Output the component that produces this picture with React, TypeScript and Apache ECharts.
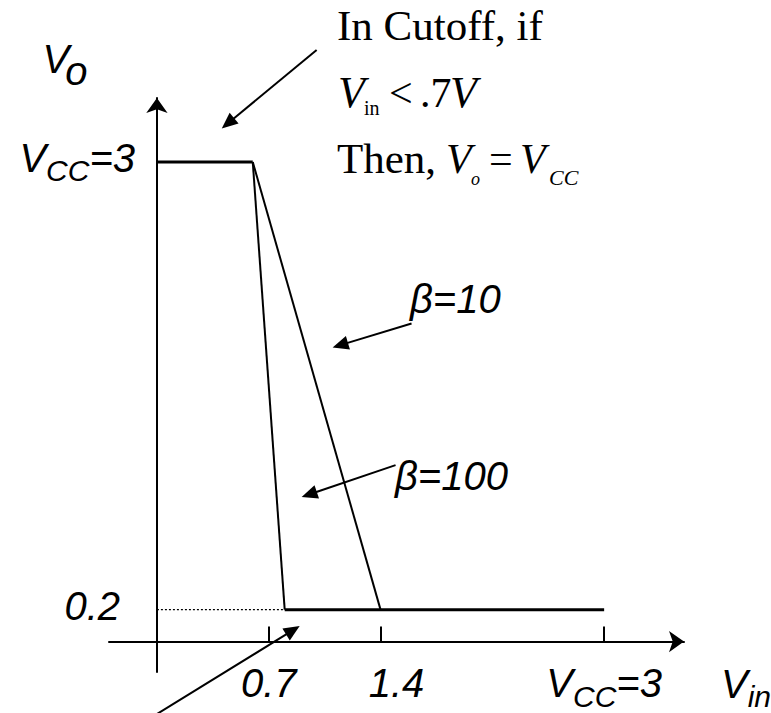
import React, { useEffect, useRef } from "react";
import * as echarts from "echarts";

// ---- data ----
const cutoffSegment: number[][] = [[0, 3], [0.6, 3]];
const beta100Segment: number[][] = [[0.6, 3], [0.8, 0.2]];
const beta10Segment: number[][] = [[0.6, 3], [1.4, 0.2]];
const saturationSegment: number[][] = [[0.8, 0.2], [2.8, 0.2]];
const saturationGuide: number[][] = [[0, 0.2], [0.8, 0.2]];

const xTickValues = [0.7, 1.4, 2.8];
const xTickLabels = ["0.7", "1.4", "VCC=3"];
const yTickValues = [0.2, 3];
const yTickLabels = ["0.2", "VCC=3"];

// annotation arrows: [fromX, fromY, toX, toY] in data units
const annotationArrows: number[][] = [
  [1.0, 3.7, 0.406, 3.21],
  [1.594, 1.99, 1.1, 1.84],
  [1.494, 1.104, 0.906, 0.904],
  [-0.044, -0.48, 0.894, 0.0975],
];

const SANS = "Liberation Sans";
const SERIF = "Liberation Serif";

const sansBase = { fontFamily: SANS, fontStyle: "italic" as const, color: "#000" };
const richLabels: Record<string, any> = {
  v: { ...sansBase, fontSize: 40, verticalAlign: "bottom", padding: [0, 0, 8, 0] },
  s: { ...sansBase, fontSize: 30, verticalAlign: "bottom" },
  n: { ...sansBase, fontSize: 40, verticalAlign: "bottom", padding: [0, 0, 8, 0] },
  nr: { ...sansBase, fontSize: 40, verticalAlign: "bottom", padding: [0, 15, 8, 0] },
  nl: { ...sansBase, fontSize: 40, verticalAlign: "bottom", padding: [0, 0, 8, 32] },
  vo: { ...sansBase, fontSize: 40, verticalAlign: "bottom", width: 19, padding: [0, 0, 12, 0] },
  o: { ...sansBase, fontSize: 40, verticalAlign: "bottom" },
};

function richText(label: string, numStyle: string): string {
  if (label.startsWith("VCC")) return "{v|V}{s|CC}{v|" + label.slice(3) + "}";
  return "{" + numStyle + "|" + label + "}";
}

function serifText(text: string, x: number, baseline: number, size: number, italic: boolean) {
  return {
    type: "text",
    style: {
      text,
      x,
      y: baseline - 0.3375 * size,
      fontFamily: SERIF,
      fontSize: size,
      fontStyle: italic ? "italic" : "normal",
      fill: "#000",
      align: "left",
      verticalAlign: "middle",
    },
    silent: true,
  };
}

function sansText(text: string, x: number, baseline: number, size: number) {
  return {
    type: "text",
    style: {
      text,
      x,
      y: baseline - 0.3465 * size,
      fontFamily: SANS,
      fontSize: size,
      fontStyle: "italic",
      fill: "#000",
      align: "left",
      verticalAlign: "middle",
    },
    silent: true,
  };
}

function lineSeries(data: number[][], width: number, type: any = "solid") {
  return {
    type: "line",
    data,
    symbol: "none",
    silent: true,
    lineStyle: { color: "#000", width, type, cap: "butt" },
    z: 3,
  };
}

export default function App() {
  const ref = useRef<HTMLDivElement>(null);

  useEffect(() => {
    if (!ref.current) return;
    const chart = echarts.init(ref.current, null, { renderer: "svg" });
    const option: any = {
      animation: false,
      backgroundColor: "#fff",
      grid: { left: 109, right: 87, top: 98, bottom: 41, outerBoundsMode: "none" },
      xAxis: {
        type: "value",
        min: -0.3,
        max: 3.3,
        splitLine: { show: false },
        axisLine: {
          show: true,
          onZero: true,
          symbol: ["none", "arrow"],
          symbolSize: [16, 15],
          lineStyle: { color: "#000", width: 2 },
        },
        axisTick: {
          show: true,
          inside: true,
          length: 15,
          customValues: xTickValues,
          lineStyle: { color: "#000", width: 2 },
        },
        axisLabel: {
          show: true,
          customValues: xTickValues,
          margin: -9,
          formatter: (v: number) => {
            const i = xTickValues.indexOf(v);
            const lab = i >= 0 ? xTickLabels[i] : "";
            return richText(lab, lab === "1.4" ? "nl" : "n");
          },
          rich: richLabels,
        },
        name: "{v|V}{s|in}",
        nameLocation: "end",
        nameGap: 37,
        nameTextStyle: { padding: [92, 0, 0, 0], rich: richLabels },
      },
      yAxis: {
        type: "value",
        min: -0.19,
        max: 3.4,
        splitLine: { show: false },
        axisLine: {
          show: true,
          onZero: true,
          symbol: ["none", "arrow"],
          symbolSize: [16, 15],
          lineStyle: { color: "#000", width: 2 },
        },
        axisTick: { show: false },
        axisLabel: {
          show: true,
          customValues: yTickValues,
          margin: -26,
          formatter: (v: number) => {
            const i = yTickValues.indexOf(v);
            const lab = i >= 0 ? yTickLabels[i] : "";
            return richText(lab, "nr");
          },
          rich: richLabels,
        },
        name: "{vo|V}{o|o}",
        nameLocation: "end",
        nameGap: 7.5,
        nameTextStyle: { padding: [0, 180, 0, 0], rich: richLabels },
      },
      series: [
        lineSeries(cutoffSegment, 3),
        lineSeries(beta100Segment, 2),
        lineSeries(beta10Segment, 2),
        lineSeries(saturationSegment, 3),
        lineSeries(saturationGuide, 1.2, [2, 2]),
        {
          type: "custom",
          silent: true,
          clip: false,
          data: annotationArrows,
          encode: { x: [0, 2], y: [1, 3] },
          z: 4,
          renderItem: (_params: any, api: any) => {
            const p1 = api.coord([api.value(0), api.value(1)]);
            const p2 = api.coord([api.value(2), api.value(3)]);
            const dx = p2[0] - p1[0];
            const dy = p2[1] - p1[1];
            const len = Math.hypot(dx, dy) || 1;
            const ux = dx / len;
            const uy = dy / len;
            const L = 16;
            const W = 7;
            const bx = p2[0] - ux * L;
            const by = p2[1] - uy * L;
            return {
              type: "group",
              children: [
                {
                  type: "line",
                  shape: { x1: p1[0], y1: p1[1], x2: bx + ux * 2, y2: by + uy * 2 },
                  style: { stroke: "#000", lineWidth: 2 },
                },
                {
                  type: "polygon",
                  shape: {
                    points: [
                      [p2[0], p2[1]],
                      [bx - uy * W, by + ux * W],
                      [bx + uy * W, by - ux * W],
                    ],
                  },
                  style: { fill: "#000" },
                },
              ],
            };
          },
        },
      ],
      graphic: [
        serifText("In Cutoff, if", 337, 40, 43, false),
        serifText("V", 338, 107, 44, true),
        serifText("in", 364, 115, 20, false),
        serifText("<", 389, 107, 42, false),
        serifText(".7", 420, 107, 42, false),
        serifText("V", 450, 107, 44, true),
        serifText("Then,", 337, 173, 43, false),
        serifText("V", 446, 173, 42, true),
        serifText("o", 471, 185, 18, true),
        serifText("=", 489, 173, 42, false),
        serifText("V", 520, 173, 42, true),
        serifText("CC", 549, 185, 22, true),
        sansText("β=10", 410, 313, 40),
        sansText("β=100", 395, 490, 40),
      ],
    };
    chart.setOption(option);
    return () => chart.dispose();
  }, []);

  return (
    <div
      ref={ref}
      style={{ position: "absolute", left: 0, top: 0, width: 771, height: 713, background: "#fff" }}
    />
  );
}
